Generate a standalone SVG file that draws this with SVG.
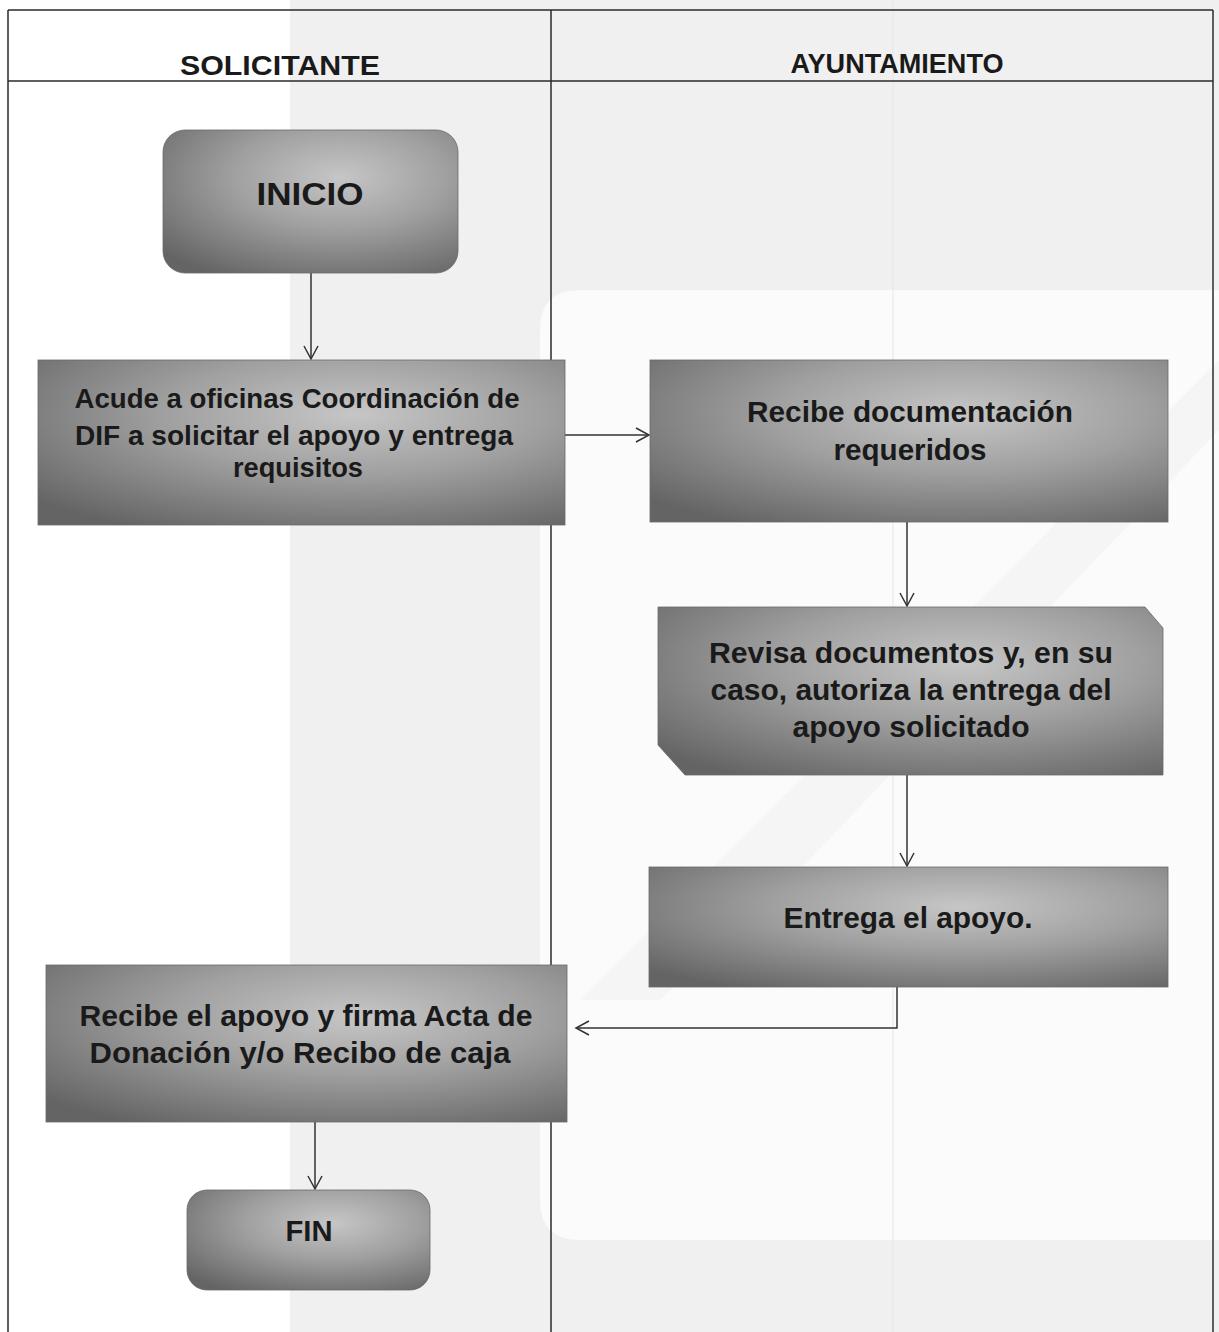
<svg xmlns="http://www.w3.org/2000/svg" width="1219" height="1332" viewBox="0 0 1219 1332">
  <defs>
    <radialGradient id="boxGrad" cx="0.6" cy="0.33" r="0.8">
      <stop offset="0" stop-color="#c6c6c6"/>
      <stop offset="0.45" stop-color="#a0a0a0"/>
      <stop offset="1" stop-color="#646464"/>
    </radialGradient>
    <marker id="arrow" markerUnits="userSpaceOnUse" markerWidth="16" markerHeight="16" refX="14" refY="8" orient="auto" viewBox="0 0 16 16">
      <path d="M1,1 L14,8 L1,15" fill="none" stroke="#333" stroke-width="1.5"/>
    </marker>
    <style>
      .box { fill: url(#boxGrad); stroke: #6a6a6a; stroke-width: 0.8; }
      .lbl { font-family: "Liberation Sans", Arial, sans-serif; font-weight: bold; fill: #1a1a1a; text-anchor: middle; }
      .hdr { font-family: "Liberation Sans", Arial, sans-serif; font-weight: bold; fill: #1a1a1a; text-anchor: middle; font-size: 28px; }
      .grid { stroke: #2a2a2a; stroke-width: 1.5; fill: none; }
      .conn { stroke: #333; stroke-width: 1.5; fill: none; marker-end: url(#arrow); }
    </style>
  </defs>

  <rect width="1219" height="1332" fill="#ffffff"/>

  <!-- faint watermark background -->
  <g id="watermark">
    <rect x="290" y="0" width="929" height="1332" fill="#f0f0f0"/>
    <path d="M540,330 Q540,290 580,290 L1219,290 L1219,1240 L580,1240 Q540,1240 540,1200 Z" fill="#fbfbfb"/>
    <polygon points="580,1000 720,860 1219,360 1219,430 790,880 660,1000" fill="#f5f5f5"/>
    <line x1="893" y1="0" x2="893" y2="1332" stroke="#e6e6e6" stroke-width="1"/>
  </g>

  <!-- table -->
  <g id="table">
    <line class="grid" x1="8" y1="10" x2="1213" y2="10"/>
    <line class="grid" x1="8" y1="81" x2="1213" y2="81"/>
    <line class="grid" x1="8" y1="10" x2="8" y2="1332"/>
    <line class="grid" x1="1213" y1="10" x2="1213" y2="1332"/>
    <line class="grid" x1="551" y1="10" x2="551" y2="1332"/>
    <text class="hdr" x="280" y="75" textLength="200" lengthAdjust="spacingAndGlyphs">SOLICITANTE</text>
    <text class="hdr" x="897" y="73" textLength="213" lengthAdjust="spacingAndGlyphs">AYUNTAMIENTO</text>
  </g>

  <!-- connectors -->
  <g id="connectors">
    <line class="conn" x1="311" y1="273" x2="311" y2="359"/>
    <line class="conn" x1="565" y1="435" x2="649" y2="435"/>
    <line class="conn" x1="907" y1="522" x2="907" y2="606"/>
    <line class="conn" x1="907" y1="775" x2="907" y2="866"/>
    <polyline class="conn" points="897,987 897,1028 576,1028"/>
    <line class="conn" x1="315" y1="1122" x2="315" y2="1189"/>
  </g>

  <g id="inicio">
    <rect class="box" x="163" y="130" width="295" height="143" rx="22"/>
    <text class="lbl" x="310" y="205" font-size="32" textLength="107" lengthAdjust="spacingAndGlyphs">INICIO</text>
  </g>

  <g id="acude">
    <rect class="box" x="38" y="360" width="527" height="165"/>
    <text class="lbl" x="297" y="408" font-size="27" textLength="445" lengthAdjust="spacingAndGlyphs">Acude a oficinas Coordinación de</text>
    <text class="lbl" x="294" y="445" font-size="27" textLength="438" lengthAdjust="spacingAndGlyphs">DIF a solicitar el apoyo y entrega</text>
    <text class="lbl" x="298" y="477" font-size="27" textLength="130" lengthAdjust="spacingAndGlyphs">requisitos</text>
  </g>

  <g id="recibe-doc">
    <rect class="box" x="650" y="360" width="518" height="162"/>
    <text class="lbl" x="910" y="422" font-size="29" textLength="326" lengthAdjust="spacingAndGlyphs">Recibe documentación</text>
    <text class="lbl" x="910" y="460" font-size="29" textLength="153" lengthAdjust="spacingAndGlyphs">requeridos</text>
  </g>

  <g id="revisa">
    <polygon class="box" points="658,607 1145,607 1163,628 1163,775 685,775 658,745"/>
    <text class="lbl" x="911" y="663" font-size="29" textLength="404" lengthAdjust="spacingAndGlyphs">Revisa documentos y, en su</text>
    <text class="lbl" x="911" y="700" font-size="29" textLength="401" lengthAdjust="spacingAndGlyphs">caso, autoriza la entrega del</text>
    <text class="lbl" x="911" y="737" font-size="29" textLength="237" lengthAdjust="spacingAndGlyphs">apoyo solicitado</text>
  </g>

  <g id="entrega">
    <rect class="box" x="649" y="867" width="519" height="120"/>
    <text class="lbl" x="908" y="928" font-size="29" textLength="249" lengthAdjust="spacingAndGlyphs">Entrega el apoyo.</text>
  </g>

  <g id="recibe-apoyo">
    <rect class="box" x="46" y="965" width="521" height="157"/>
    <text class="lbl" x="306" y="1026" font-size="29" textLength="453" lengthAdjust="spacingAndGlyphs">Recibe el apoyo y firma Acta de</text>
    <text class="lbl" x="300" y="1063" font-size="29" textLength="421" lengthAdjust="spacingAndGlyphs">Donación y/o Recibo de caja</text>
  </g>

  <g id="fin">
    <rect class="box" x="187" y="1190" width="243" height="100" rx="20"/>
    <text class="lbl" x="309" y="1241" font-size="29" textLength="47" lengthAdjust="spacingAndGlyphs">FIN</text>
  </g>
</svg>
